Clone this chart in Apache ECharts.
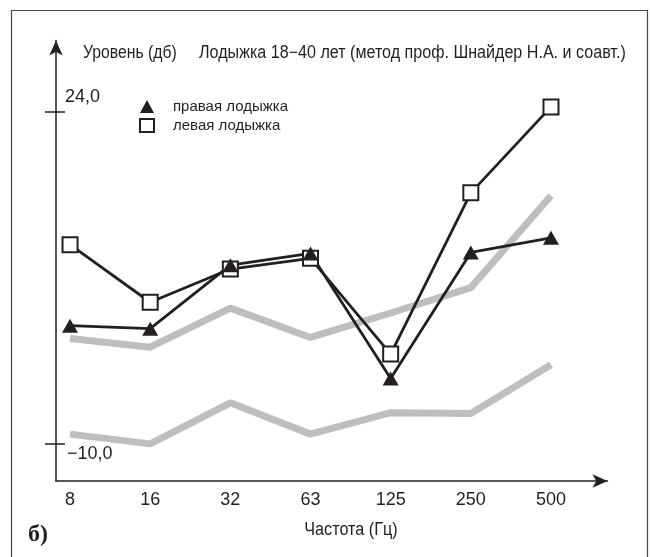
<!DOCTYPE html>
<html>
<head>
<meta charset="utf-8">
<script src="https://cdn.jsdelivr.net/npm/echarts@6/dist/echarts.min.js"></script>
<style>
  html, body { margin: 0; padding: 0; background: #fff; }
  #main { width: 650px; height: 557px; }
</style>
</head>
<body>
<div id="main"></div>
<script>
// частоты (ось X)
var freqs = ['8', '16', '32', '63', '125', '250', '500'];
// левая лодыжка (квадраты)
var leftAnkle = [10.4, 4.5, 7.9, 9.0, -0.8, 15.7, 24.5];
// правая лодыжка (треугольники)
var rightAnkle = [2.1, 1.8, 8.3, 9.5, -3.3, 9.6, 11.1];
// серые линии - границы нормы
var normUpper = [0.8, -0.1, 3.9, 0.9, 3.4, 6.0, 15.4];
var normLower = [-9.0, -10.0, -5.8, -9.0, -6.8, -6.9, -1.9];
// подписи оси Y
var yTicks = [24, -10];

var FONT = '"Liberation Sans", Arial, sans-serif';
var INK = '#231f20';
var GRAY = '#bcbec0';
var NARROW = 0.9; // шрифт в оригинале узкий
var Y_MIN = -13.8, Y_MAX = 31.3;
var X_MIN = -0.175, X_MAX = 6.705;

function pts(arr) {
    return arr.map(function (v, i) { return [i, v]; });
}
function fmt(v) {
    return v.toFixed(1).replace('.', ',').replace('-', '\u2212');
}

// правая половина засечек (левая рисуется самой осью)
var tickHalves = yTicks.map(function (v) {
    return [{ coord: [X_MIN, v] }, { coord: [X_MIN + 0.112, v] }];
});

var chart = echarts.init(document.getElementById('main'));
var option = {
    animation: false,
    grid: { left: 56, right: 42.5, top: 40.5, bottom: 76 },
    xAxis: {
        type: 'value',
        min: X_MIN,
        max: X_MAX,
        splitLine: { show: false },
        axisLine: { onZero: false, lineStyle: { color: INK, width: 1.5 }, symbol: ['none', 'arrow'], symbolSize: [10, 15] },
        axisTick: { show: false },
        axisLabel: {
            customValues: [0, 1, 2, 3, 4, 5, 6],
            formatter: function (v) { return freqs[Math.round(v)]; },
            color: INK, fontFamily: FONT, fontSize: 18, margin: 10
        }
    },
    yAxis: [{
        type: 'value',
        position: 'left',
        min: Y_MIN,
        max: Y_MAX,
        splitLine: { show: false },
        axisLine: { onZero: false, lineStyle: { color: INK, width: 1.5 }, symbol: ['none', 'arrow'], symbolSize: [10, 15] },
        axisTick: { show: true, customValues: yTicks, length: 11, lineStyle: { color: INK, width: 1.5 } },
        axisLabel: {
            customValues: [24], inside: true, margin: 9, verticalAlign: 'bottom',
            padding: [0, 0, 6, 0],
            formatter: fmt, color: INK, fontFamily: FONT, fontSize: 18
        }
    }, {
        type: 'value',
        position: 'left',
        min: Y_MIN,
        max: Y_MAX,
        splitLine: { show: false },
        axisLine: { show: false, onZero: false },
        axisTick: { show: false },
        axisLabel: {
            customValues: [-10], inside: true, margin: 11, verticalAlign: 'top',
            padding: [1, 0, 0, 0],
            formatter: fmt, color: INK, fontFamily: FONT, fontSize: 18
        }
    }],
    legend: {
        orient: 'vertical',
        left: 134,
        top: 94,
        itemWidth: 14,
        itemHeight: 13,
        itemGap: 4,
        textStyle: { color: INK, fontFamily: FONT, fontSize: 15, padding: [0, 0, 0, 14] },
        data: [
            { name: 'правая лодыжка', icon: 'triangle', itemStyle: { color: INK, borderWidth: 0 } },
            { name: 'левая лодыжка', icon: 'rect', itemStyle: { color: '#fff', borderColor: INK, borderWidth: 2 } }
        ]
    },
    graphic: [
        { type: 'rect', shape: { x: 11.5, y: 10.5, width: 636, height: 570 }, style: { fill: 'none', stroke: '#444', lineWidth: 1.2 }, silent: true },
        { type: 'text', x: 83, y: 53, scaleX: NARROW, style: { text: 'Уровень (дб)', fill: INK, fontFamily: FONT, fontSize: 17.5, verticalAlign: 'middle' } },
        { type: 'text', x: 199, y: 53, scaleX: 0.92, style: { text: 'Лодыжка 18\u221240 лет (метод проф. Шнайдер Н.А. и соавт.)', fill: INK, fontFamily: FONT, fontSize: 17.5, verticalAlign: 'middle' } },
        { type: 'text', x: 351, y: 530, scaleX: NARROW, style: { text: 'Частота (Гц)', fill: INK, fontFamily: FONT, fontSize: 18, align: 'center', verticalAlign: 'middle' } },
        { type: 'text', x: 28, y: 535, style: { text: 'б)', fill: INK, fontFamily: '"Liberation Serif", "DejaVu Serif", serif', fontWeight: 'bold', fontSize: 24, verticalAlign: 'middle' } }
    ],
    series: [{
        name: 'норма (нижняя)',
        type: 'line',
        data: pts(normLower),
        symbol: 'none',
        lineStyle: { color: GRAY, width: 7, cap: 'butt' },
        itemStyle: { color: GRAY },
        markLine: {
            silent: true,
            symbol: ['none', 'none'],
            label: { show: false },
            lineStyle: { color: INK, width: 1.5, type: 'solid' },
            data: tickHalves
        }
    }, {
        name: 'норма (верхняя)',
        type: 'line',
        data: pts(normUpper),
        symbol: 'none',
        lineStyle: { color: GRAY, width: 7, cap: 'butt' },
        itemStyle: { color: GRAY }
    }, {
        name: 'левая лодыжка',
        type: 'line',
        data: pts(leftAnkle),
        symbol: 'rect',
        symbolSize: 15,
        lineStyle: { color: INK, width: 2.8 },
        itemStyle: { color: '#fff', borderColor: INK, borderWidth: 2 }
    }, {
        name: 'правая лодыжка',
        type: 'line',
        data: pts(rightAnkle),
        symbol: 'triangle',
        symbolSize: [16, 14],
        lineStyle: { color: INK, width: 2.8 },
        itemStyle: { color: INK }
    }]
};
chart.setOption(option);
</script>
</body>
</html>
